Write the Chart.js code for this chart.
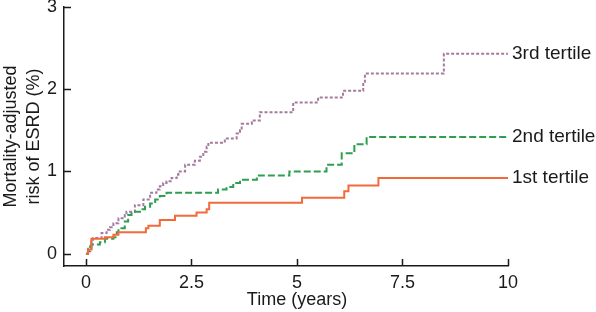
<!DOCTYPE html>
<html>
<head>
<meta charset="utf-8">
<script src="https://cdn.jsdelivr.net/npm/chart.js@4"></script>
<style>
  html, body { margin: 0; padding: 0; background: #fff; }
  #wrap { width: 596px; height: 312px; }
</style>
</head>
<body>
<div id="wrap"><canvas id="risk-chart"></canvas></div>
<script>
// time (years) and mortality-adjusted risk (%) for each tertile
var time1 = [0, 0.05, 0.13, 0.45, 0.65, 0.77, 1.42, 1.48, 1.75, 2.11, 2.62, 2.86, 2.92, 5.12, 6.12, 6.22, 6.93, 10];
var risk1 = [0, 0.05, 0.18, 0.20, 0.23, 0.26, 0.31, 0.34, 0.41, 0.46, 0.50, 0.54, 0.62, 0.68, 0.76, 0.83, 0.92, 0.92];

var time2 = [0, 0.05, 0.1, 0.13, 0.33, 0.45, 0.65, 0.73, 0.77, 0.92, 1.0, 1.08, 1.28, 1.40, 1.52, 1.64, 1.75, 1.91, 3.13, 3.33, 3.49, 3.65, 4.05, 4.82, 5.70, 6.06, 6.36, 6.65, 10];
var risk2 = [0, 0.03, 0.09, 0.11, 0.14, 0.18, 0.20, 0.26, 0.31, 0.39, 0.47, 0.51, 0.54, 0.57, 0.61, 0.66, 0.70, 0.74, 0.78, 0.81, 0.86, 0.90, 0.95, 1.00, 1.08, 1.22, 1.33, 1.42, 1.42];

var time3 = [0, 0.05, 0.13, 0.17, 0.37, 0.49, 0.57, 0.65, 0.77, 0.92, 0.96, 1.16, 1.36, 1.52, 1.67, 1.75, 1.83, 1.91, 2.03, 2.15, 2.19, 2.35, 2.58, 2.70, 2.78, 2.86, 2.90, 3.29, 3.57, 3.65, 3.69, 3.93, 4.12, 4.91, 5.50, 6.09, 6.57, 6.61, 8.48, 10];
var risk3 = [0, 0.06, 0.15, 0.19, 0.25, 0.29, 0.32, 0.37, 0.43, 0.47, 0.51, 0.59, 0.66, 0.74, 0.78, 0.82, 0.86, 0.88, 0.92, 0.96, 1.00, 1.08, 1.13, 1.18, 1.24, 1.30, 1.35, 1.40, 1.46, 1.50, 1.58, 1.62, 1.72, 1.84, 1.90, 1.98, 2.09, 2.19, 2.43, 2.43];

var seriesNames = ['1st tertile', '2nd tertile', '3rd tertile'];
var xTicks = [0, 2.5, 5, 7.5, 10];
var yTicks = [0, 1, 2, 3];
var xTitle = 'Time (years)';

function toPoints(ts, vs) {
    return ts.map(function (t, i) { return { x: t, y: vs[i] }; });
}

var fontFamily = '"Liberation Sans", Arial, sans-serif';
var inkColor = '#1a1a1a';

// short tick marks drawn inside the axes, the x title centred under 0-10,
// and the curve names at line ends
var insideTicks = {
    id: 'insideTicks',
    afterDraw: function (chart) {
        var ctx = chart.ctx;
        var xs = chart.scales.x, ys = chart.scales.y;
        var area = chart.chartArea;
        ctx.save();
        ctx.strokeStyle = inkColor;
        ctx.lineWidth = 1.5;
        ctx.beginPath();
        xTicks.forEach(function (v) {
            var px = Math.round(xs.getPixelForValue(v)) + 0.5;
            ctx.moveTo(px, area.bottom);
            ctx.lineTo(px, area.bottom - 7);
        });
        yTicks.forEach(function (v) {
            var py = Math.round(ys.getPixelForValue(v)) + 0.5;
            ctx.moveTo(area.left, py);
            ctx.lineTo(area.left + 7, py);
        });
        ctx.stroke();

        ctx.fillStyle = inkColor;
        ctx.font = '18px ' + fontFamily;
        ctx.textAlign = 'center';
        ctx.textBaseline = 'middle';
        var mid = (xTicks[0] + xTicks[xTicks.length - 1]) / 2;
        ctx.fillText(xTitle, xs.getPixelForValue(mid), area.bottom + 34);

        ctx.font = '19px ' + fontFamily;
        ctx.textAlign = 'left';
        chart.data.datasets.forEach(function (ds) {
            var last = ds.data[ds.data.length - 1];
            ctx.fillText(ds.label, xs.getPixelForValue(last.x) + 4, ys.getPixelForValue(last.y));
        });
        ctx.restore();
    }
};

var riskContext = document.getElementById('risk-chart').getContext('2d');
var riskChart = new Chart(riskContext, {
    type: 'line',
    data: {
        datasets: [
            {
                label: seriesNames[0],
                data: toPoints(time1, risk1),
                borderColor: '#f26a3a',
                borderWidth: 2,
                stepped: true,
                pointRadius: 0
            },
            {
                label: seriesNames[1],
                data: toPoints(time2, risk2),
                borderColor: '#2f9e50',
                borderWidth: 2,
                borderDash: [7, 3],
                stepped: true,
                pointRadius: 0
            },
            {
                label: seriesNames[2],
                data: toPoints(time3, risk3),
                borderColor: '#a57a9f',
                borderWidth: 2,
                borderDash: [3, 2],
                stepped: true,
                pointRadius: 0
            }
        ]
    },
    options: {
        responsive: true,
        maintainAspectRatio: false,
        animation: false,
        layout: { padding: { top: 7, right: 88, bottom: 0, left: 0 } },
        plugins: {
            legend: { display: false },
            tooltip: { enabled: false }
        },
        scales: {
            x: {
                type: 'linear',
                min: -0.52,
                max: 10,
                afterBuildTicks: function (scale) {
                    scale.ticks = xTicks.map(function (v) { return { value: v }; });
                },
                afterFit: function (scale) {
                    scale.height = 46;
                    scale.paddingLeft = 0;
                    scale.paddingRight = 0;
                },
                grid: { display: false, drawTicks: false },
                border: { display: true, color: inkColor, width: 1.5 },
                ticks: {
                    color: inkColor,
                    padding: 6,
                    maxRotation: 0,
                    font: { family: fontFamily, size: 18 },
                    callback: function (v) { return String(v); }
                },
                title: { display: false }
            },
            y: {
                type: 'linear',
                min: -0.15,
                max: 3,
                afterBuildTicks: function (scale) {
                    scale.ticks = yTicks.map(function (v) { return { value: v }; });
                },
                afterFit: function (scale) {
                    scale.width = 64;
                    scale.paddingTop = 0;
                    scale.paddingBottom = 0;
                },
                grid: { display: false, drawTicks: false },
                border: { display: true, color: inkColor, width: 1.5 },
                ticks: {
                    color: inkColor,
                    padding: 7,
                    font: { family: fontFamily, size: 18 },
                    callback: function (v) { return String(v); }
                },
                title: {
                    display: true,
                    text: ['Mortality-adjusted', 'risk of ESRD (%)'],
                    color: inkColor,
                    font: { family: fontFamily, size: 18, lineHeight: 1.25 },
                    padding: { top: 0, bottom: 0 }
                }
            }
        }
    },
    plugins: [insideTicks]
});
</script>
</body>
</html>
